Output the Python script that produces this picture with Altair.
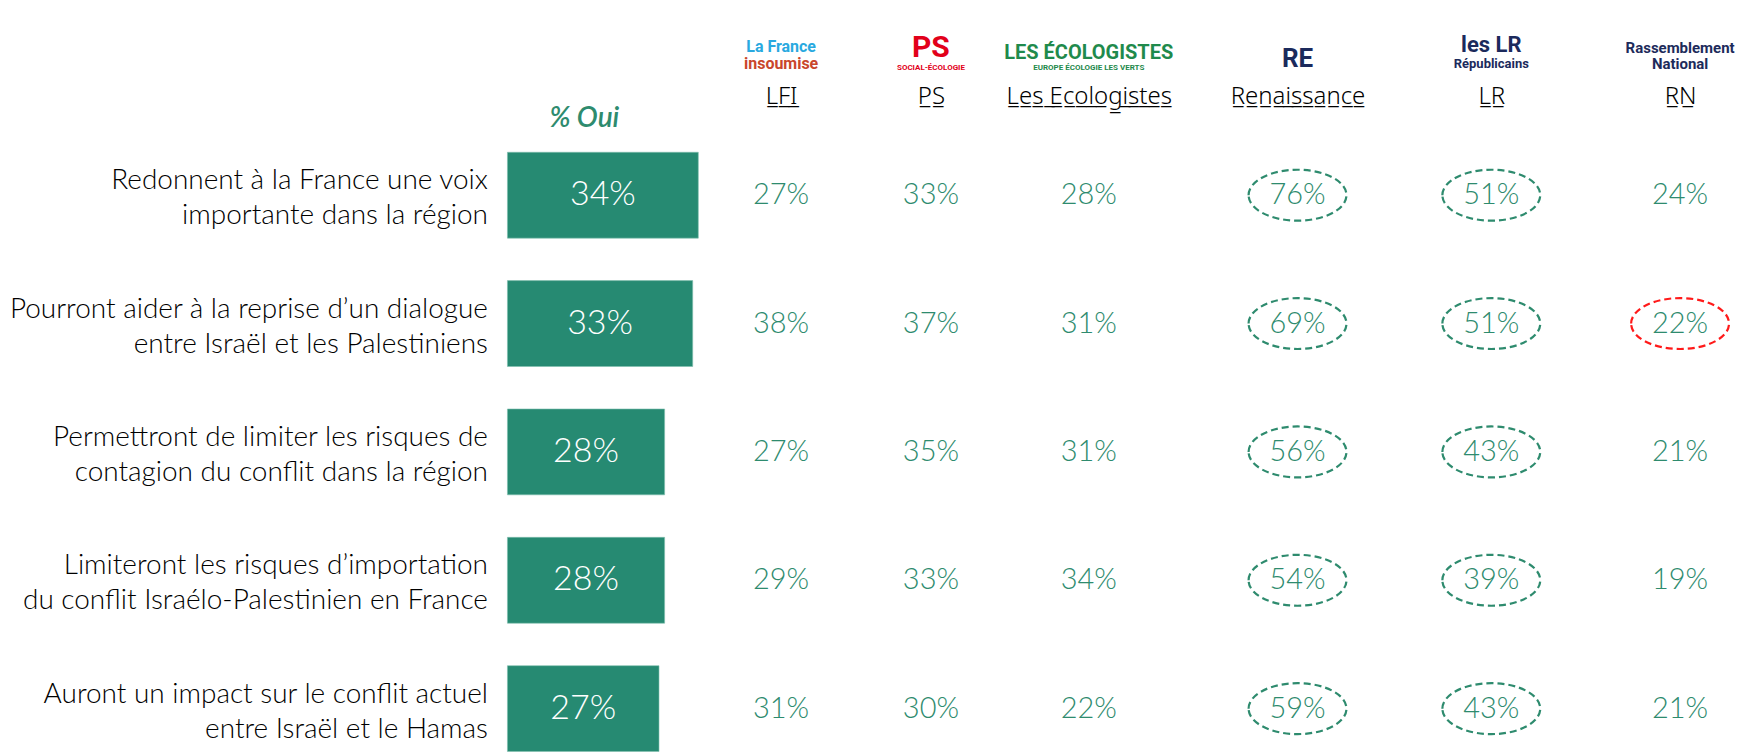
import altair as alt
import pandas as pd

# ---------------- data ----------------
questions = [
    "Redonnent à la France une voix|importante dans la région",
    "Pourront aider à la reprise d’un dialogue|entre Israël et les Palestiniens",
    "Permettront de limiter les risques de|contagion du conflit dans la région",
    "Limiteront les risques d’importation|du conflit Israélo-Palestinien en France",
    "Auront un impact sur le conflit actuel|entre Israël et le Hamas",
]
oui = [34, 33, 28, 28, 27]

parties = ["LFI", "PS", "Les Ecologistes", "Renaissance", "LR", "RN"]
lfi = [27, 38, 27, 29, 31]
ps = [33, 37, 35, 33, 30]
eco = [28, 31, 31, 34, 22]
ren = [76, 69, 56, 54, 59]
lr = [51, 51, 43, 39, 43]
rn = [24, 22, 21, 19, 21]
party_values = [lfi, ps, eco, ren, lr, rn]

# circled cells ("up" = green circle, "down" = red circle, "" = none)
hl_lfi = ["", "", "", "", ""]
hl_ps = ["", "", "", "", ""]
hl_eco = ["", "", "", "", ""]
hl_ren = ["up", "up", "up", "up", "up"]
hl_lr = ["up", "up", "up", "up", "up"]
hl_rn = ["", "down", "", "", ""]
party_highlights = [hl_lfi, hl_ps, hl_eco, hl_ren, hl_lr, hl_rn]

# logo stand-ins (text)
logo_top = ["La France", "PS", "LES ÉCOLOGISTES", "RE", "les LR", "Rassemblement"]
logo_bottom = ["insoumise", "SOCIAL-ÉCOLOGIE", "EUROPE ÉCOLOGIE LES VERTS", "", "Républicains", "National"]

# ---------------- styles ----------------
BAR = "#268A72"
GREEN = "#2E8B6E"
RED = "#FF1A1A"
FONT = "Lato"
logo_top_color = ["#29A9E0", "#E2001A", "#1F8A4C", "#1B2A5C", "#1B2A5C", "#1D2B5B"]
logo_bottom_color = ["#C9462C", "#E2001A", "#1F8A4C", "#1B2A5C", "#1B2A5C", "#1D2B5B"]
logo_top_size = [16, 30, 20, 26, 22, 15]
logo_bottom_size = [16, 8, 8, 8, 13, 15]
panel_widths = [240, 60, 256, 162, 226, 152]

H = 600
yscale = alt.Scale(type="band", paddingInner=0.331, paddingOuter=0)
ELLIPSE = "M-1,0A1,0.52,0,1,1,1,0A1,0.52,0,1,1,-1,0Z"


def underline(s):
    return "".join(ch + "\u0332" for ch in s)


# ---------------- bar panel ----------------
bar_df = pd.DataFrame({"question": questions, "oui": oui})
bar_base = alt.Chart(bar_df).encode(
    y=alt.Y(
        "question:N",
        sort=questions,
        scale=yscale,
        axis=alt.Axis(
            title=None,
            labelExpr="split(datum.value, '|')",
            labelFont=FONT,
            labelFontWeight=300,
            labelFontSize=28,
            labelLineHeight=35,
            labelColor="#000000",
            labelLimit=700,
            labelPadding=20,
            labelOffset=-14,
            ticks=False,
            domain=False,
        ),
    )
)
xscale = alt.Scale(domain=[0, 27.4], nice=False, zero=True)
bars = bar_base.mark_bar(color=BAR, stroke="#7FBFAE", strokeWidth=0.6).encode(
    x=alt.X("oui:Q", scale=xscale, axis=None)
)
bar_text = (
    bar_base.transform_calculate(mid="datum.oui / 2", lab="datum.oui + '%'")
    .mark_text(font=FONT, fontWeight=300, fontSize=34, color="white", baseline="middle")
    .encode(x=alt.X("mid:Q", scale=xscale, axis=None), text="lab:N")
)
bar_panel = alt.layer(bars, bar_text).properties(
    width=154,
    height=H,
    title=alt.TitleParams(
        text="% Oui",
        font=FONT,
        fontSize=28,
        fontStyle="italic",
        fontWeight=600,
        color=GREEN,
        anchor="middle",
        offset=19,
    ),
)


# ---------------- party panels ----------------
def party_panel(i):
    p = parties[i]
    df = pd.DataFrame(
        {
            "question": questions,
            "party": p,
            "value": party_values[i],
            "hl": party_highlights[i],
        }
    )
    base = alt.Chart(df).encode(
        x=alt.X(
            "party:N",
            axis=alt.Axis(
                orient="top",
                title=underline(p),
                titleFont="Noto Sans",
                titleFontWeight=300,
                titleFontSize=24,
                titleColor="#000000",
                titlePadding=44,
                labels=False,
                ticks=False,
                domain=False,
            ),
        ),
        y=alt.Y("question:N", sort=questions, scale=yscale, axis=None),
    )
    txt = base.transform_calculate(lab="datum.value + '%'").mark_text(
        font=FONT, fontWeight=300, fontSize=29, color=GREEN, baseline="middle"
    ).encode(text="lab:N")
    circ = (
        base.transform_filter("datum.hl != ''")
        .mark_point(shape=ELLIPSE, size=9604, filled=False, strokeDash=[7, 4], strokeWidth=2.2, opacity=1)
        .encode(
            color=alt.Color(
                "hl:N",
                scale=alt.Scale(domain=["up", "down"], range=[GREEN, RED]),
                legend=None,
            )
        )
    )
    title_kwargs = dict(
        text=logo_top[i],
        color=logo_top_color[i],
        font="Roboto",
        fontWeight="bold",
        fontSize=logo_top_size[i],
        anchor="middle",
        offset=12,
    )
    if logo_bottom[i]:
        title_kwargs.update(
            subtitle=logo_bottom[i],
            subtitleColor=logo_bottom_color[i],
            subtitleFont="Roboto",
            subtitleFontWeight="bold",
            subtitleFontSize=logo_bottom_size[i],
            subtitlePadding=1,
        )
    return alt.layer(circ, txt).properties(
        width=panel_widths[i], height=H, title=alt.TitleParams(**title_kwargs)
    )


panels = [party_panel(i) for i in range(len(parties))]

chart = (
    alt.hconcat(bar_panel, *panels, spacing=0, bounds="flush")
    .properties(padding={"left": 0, "top": 25, "right": 0, "bottom": 0})
    .configure_view(stroke=None)
    .configure_axis(grid=False)
)

chart.save("out.html", embed_options={"renderer": "svg", "actions": False})
